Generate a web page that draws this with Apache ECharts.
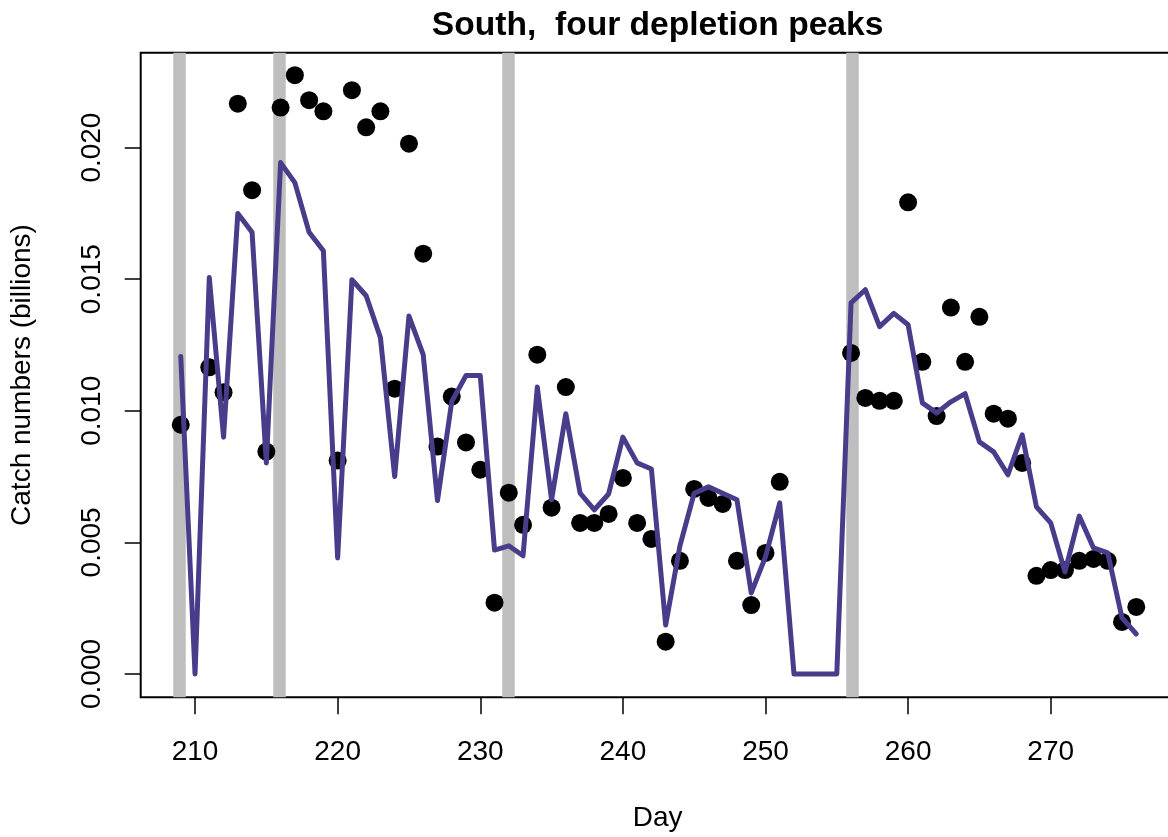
<!DOCTYPE html>
<html>
<head>
<meta charset="utf-8">
<script src="https://cdn.jsdelivr.net/npm/echarts@6/dist/echarts.min.js"></script>
<style>
  html, body { margin: 0; padding: 0; background: #fff; }
  #chart { width: 1168px; height: 837px; }
</style>
</head>
<body>
<div id="chart"></div>
<script>
// ---- data ----
const days = [209,210,211,212,213,214,215,216,217,218,219,220,221,222,223,224,225,226,227,228,229,230,
  231,232,233,234,235,236,237,238,239,240,241,242,243,244,245,246,247,248,249,250,251,252,253,254,255,
  256,257,258,259,260,261,262,263,264,265,266,267,268,269,270,271,272,273,274,275,276];

// observed catch (points); null = no observation
const observedCatch = [0.00947,null,0.01165,0.0107,0.02167,0.01838,0.00845,0.02152,0.02275,0.0218,0.02138,0.00811,
  0.02218,0.02077,0.02138,0.01084,0.02015,0.01597,0.00864,0.01054,0.0088,0.00776,
  0.00271,0.00689,0.00567,0.01213,0.00632,0.0109,0.00574,0.00574,0.00608,0.00745,0.00574,0.00513,0.00123,0.0043,
  0.00703,0.00669,0.00646,0.0043,0.00262,0.0046,0.0073,null,null,null,null,
  0.0122,0.01049,0.01038,0.01038,0.01792,0.01186,0.0098,0.01392,0.01186,0.01357,0.00989,0.0097,0.00802,
  0.00373,0.00395,0.00395,0.0043,0.00437,0.0043,0.00198,0.00255];

// fitted catch (line)
const fittedCatch = [0.01206,0.0,0.01506,0.009,0.0175,0.01678,0.00802,0.01943,0.01867,0.01678,0.01608,0.00441,
  0.01498,0.01437,0.01278,0.0075,0.0136,0.01213,0.00659,0.01035,0.01134,0.01134,
  0.00471,0.00487,0.00449,0.0109,0.00662,0.00989,0.00687,0.00624,0.00684,0.009,0.00802,0.00779,0.00186,0.00487,
  0.00687,0.00711,0.00687,0.00662,0.00308,0.00445,0.0065,0.0,0.0,0.0,0.0,
  0.0141,0.0146,0.0132,0.0137,0.01327,0.0103,0.00992,0.01034,0.01065,0.00882,0.00844,0.00757,0.00909,
  0.00635,0.00574,0.00388,0.006,0.00479,0.0046,0.00213,0.00152];

// depletion peak days (grey bars)
const peakDays = [208.91, 215.94, 231.99, 256.05];

const xTicks = [210, 220, 230, 240, 250, 260, 270];
const yTicks = [0, 0.005, 0.010, 0.015, 0.020];

const titleText = 'South,  four depletion peaks';
const xName = 'Day';
const yName = 'Catch numbers (billions)';

// ---- chart ----
const FONT = '"Liberation Sans", Arial, Helvetica, sans-serif';
const chart = echarts.init(document.getElementById('chart'), null, { renderer: 'canvas' });

const pointData = days.map((d, i) => [d, observedCatch[i]]).filter(p => p[1] !== null);
const lineData = days.map((d, i) => [d, fittedCatch[i]]);

chart.setOption({
  animation: false,
  backgroundColor: '#ffffff',
  title: {
    text: titleText,
    left: 657.6,
    top: 9,
    padding: 0,
    textAlign: 'center',
    textStyle: { fontFamily: FONT, fontSize: 33.6, fontWeight: 'bold', color: '#000' }
  },
  grid: {
    left: 140.7, right: -6.5, top: 52.7, bottom: 139.7,
    show: true, borderColor: '#000', borderWidth: 2, backgroundColor: 'transparent',
    containLabel: false, outerBoundsMode: 'none'
  },
  xAxis: {
    type: 'value',
    min: 206.19, max: 278.68,
    splitLine: { show: false },
    axisLine: { show: false, onZero: false },
    axisTick: { show: true, inside: false, length: 17, customValues: xTicks, lineStyle: { color: '#000', width: 1.5 } },
    axisLabel: { show: true, customValues: xTicks, margin: 41, fontFamily: FONT, fontSize: 28, color: '#000',
      formatter: v => String(v) },
    name: xName, nameLocation: 'middle', nameGap: 107,
    nameTextStyle: { fontFamily: FONT, fontSize: 28, color: '#000' }
  },
  yAxis: {
    type: 'value',
    min: -0.000885, max: 0.023605,
    splitLine: { show: false },
    axisLine: { show: false, onZero: false },
    axisTick: { show: true, inside: false, length: 16, customValues: yTicks, lineStyle: { color: '#000', width: 1.5 } },
    axisLabel: { show: true, customValues: yTicks, rotate: 90, margin: 34, fontFamily: FONT, fontSize: 28, color: '#000',
      formatter: v => v.toFixed(3) },
    name: yName, nameLocation: 'middle', nameRotate: 90, nameGap: 104,
    nameTextStyle: { fontFamily: FONT, fontSize: 28, color: '#000' }
  },
  series: [
    {
      type: 'line',
      data: [],
      z: 1,
      silent: true,
      markLine: {
        silent: true,
        z: 1,
        symbol: ['none', 'none'],
        label: { show: false },
        animation: false,
        lineStyle: { color: '#bebebe', width: 12.5, type: 'solid' },
        emphasis: { disabled: true },
        data: peakDays.map(d => ({ xAxis: d }))
      }
    },
    {
      type: 'scatter',
      data: pointData,
      symbol: 'circle',
      symbolSize: 18,
      z: 3,
      itemStyle: { color: '#000', opacity: 1 }
    },
    {
      type: 'line',
      data: lineData,
      z: 4,
      showSymbol: false,
      symbol: 'none',
      lineStyle: { color: '#483D8B', width: 5, join: 'round', cap: 'round' },
      itemStyle: { color: '#483D8B' }
    }
  ]
});
</script>
</body>
</html>
